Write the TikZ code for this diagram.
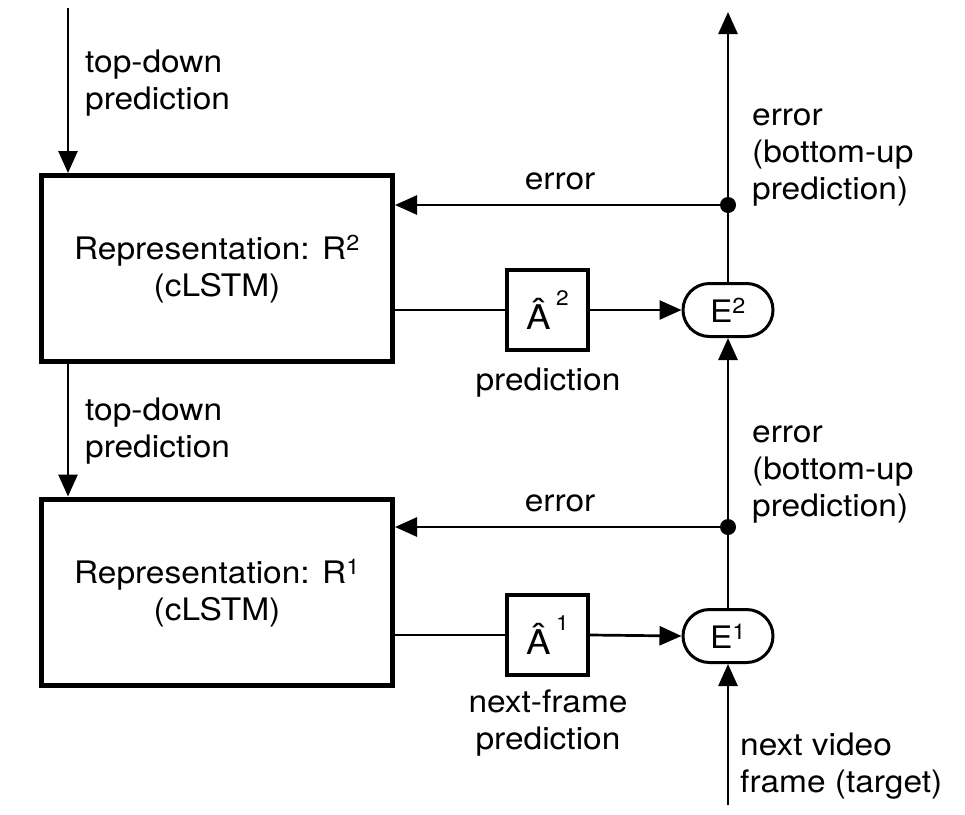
\documentclass[tikz,border=0pt]{standalone}
\usepackage{fontspec}
\setmainfont[FakeStretch=1.08]{TeX Gyre Heros}
\usetikzlibrary{arrows.meta}
\newcommand\hatA{{\fontsize{34}{34}\selectfont Â}}
\newcommand\supnum[1]{\raisebox{0.78em}{\fontsize{21}{21}\selectfont #1}}
\begin{document}
\begin{tikzpicture}[x=1pt,y=-1pt,
  every node/.style={font=\fontsize{31}{37}\selectfont},
  rep/.style={draw,line width=5pt,minimum width=351pt,minimum height=186pt,inner sep=0pt,align=center},
  abox/.style={draw,line width=4pt,minimum width=81pt,minimum height=80pt,inner sep=0pt},
  ebox/.style={draw,line width=3pt,minimum width=90pt,minimum height=53pt,rounded corners=26.5pt,inner sep=0pt},
  conn/.style={line width=2.7pt},
  arr/.style={conn,-{Triangle[length=22pt,width=19pt]}},
  lab/.style={align=left,anchor=north west,inner sep=0pt},
  dot/.style={circle,fill,inner sep=0pt,minimum size=16pt}]
\useasboundingbox (0,0) rectangle (965,814);
\node[rep] (r2) at (217,268.5) {\strut Representation: R\textsuperscript{2}\\(cLSTM)};
\node[rep] (r1) at (217,592) {\strut Representation: R\textsuperscript{1}\\(cLSTM)};
\node[abox] (a2) at (547.5,310) {\hatA\,\supnum{2}};
\node[abox] (a1) at (547.5,635) {\hatA\,\supnum{1}};
\node[ebox] (e2) at (728,310) {E\textsuperscript{2}};
\node[ebox] (e1) at (728,636) {E\textsuperscript{1}};
\node[dot] (d2) at (728,205) {};
\node[dot] (d1) at (728,527) {};
\coordinate (top) at (728,12);
\coordinate (bot) at (728,805);
\coordinate (tl) at (68,8);
% connectors
\draw[arr] (tl) -- (tl |- r2.north);
\draw[arr] (r2.south -| tl) -- (tl |- r1.north);
\draw[conn] (r2.east |- a2) -- (a2.west);
\draw[arr] (a2.east) -- (e2.west);
\draw[conn] (r1.east |- a1) -- (a1.west);
\draw[arr] (a1.east) -- (e1.west);
\draw[arr] (bot) -- (e1.south);
\draw[arr] (e1.north) -- (e2.south);
\draw[arr] (e2.north) -- (top);
\draw[arr] (d2) -- (r2.east |- d2);
\draw[arr] (d1) -- (r1.east |- d1);
% labels
\node[lab] (l1) at (85,46) {\strut top-down\\prediction};
\node[lab] (l2) at (85,394) {\strut top-down\\prediction};
\node[anchor=base] (l3) at (560,189) {error};
\node[anchor=base] (l4) at (560,511) {error};
\node[lab] (l5) at (752,99) {\strut error\\(bottom-up\\prediction)};
\node[lab] (l6) at (752,416) {\strut error\\(bottom-up\\prediction)};
\node[anchor=base,inner sep=0pt] (l7) at (548,390) {prediction};
\node[anchor=north,inner sep=0pt,align=center] (l8) at (548,686) {\strut next-frame\\prediction};
\node[lab] (l9) at (740,729) {\strut next video\\frame (target)};
\end{tikzpicture}
\end{document}
